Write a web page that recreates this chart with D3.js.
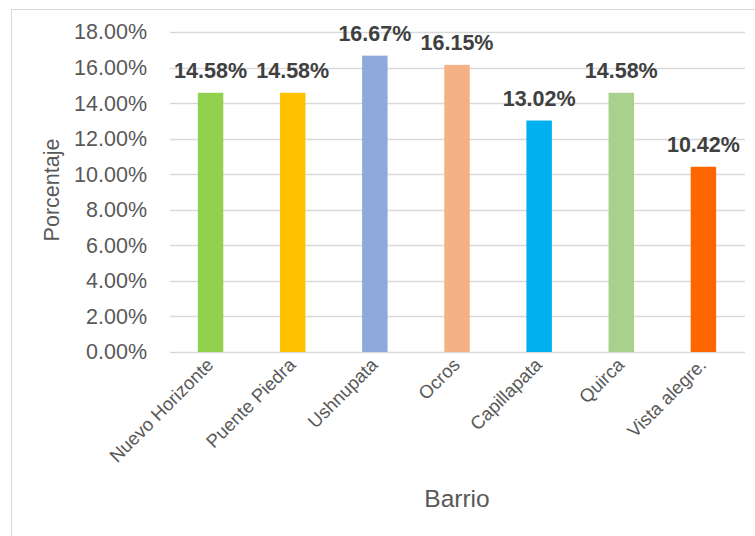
<!DOCTYPE html>
<html><head><meta charset="utf-8">
<script src="https://cdn.jsdelivr.net/npm/d3@7"></script>
<style>html,body{margin:0;padding:0;background:#fff;}svg{display:block;font-family:"Liberation Sans",Arial,sans-serif;}</style>
</head><body>
<svg id="chart" width="755" height="536"></svg>
<script>
const categories = ["Nuevo Horizonte","Puente Piedra","Ushnupata","Ocros","Capillapata","Quirca","Vista alegre."];
const values = [14.58,14.58,16.67,16.15,13.02,14.58,10.42];
const colors = ["#92D050","#FFC000","#8EA9DB","#F4B183","#00B0F0","#A9D18E","#FF6600"];
const yTicks = [0,2,4,6,8,10,12,14,16,18];
const yTitle = "Porcentaje";
const xTitle = "Barrio";

const svg = d3.select("#chart");
svg.append("rect").attr("x",11.5).attr("y",9.5).attr("width",800).attr("height",600)
  .attr("fill","#fff").attr("stroke","#D9D9D9").attr("stroke-width",1);

const x = d3.scaleBand().domain(categories).range([169.5,744.5]).paddingInner(0.69).paddingOuter(0.345);
const y = d3.scaleLinear().domain([0,18]).range([352,32]);

// gridlines
svg.append("g").selectAll("line").data(yTicks).join("line")
  .attr("x1",170).attr("x2",745)
  .attr("y1",d=>Math.round(y(d))+0.5).attr("y2",d=>Math.round(y(d))+0.5)
  .attr("stroke","#D9D9D9").attr("stroke-width",1.3);

// y axis labels
const yAxis = d3.axisLeft(y).tickValues(yTicks).tickSize(0).tickPadding(0)
  .tickFormat(d=>d.toFixed(2)+"%");
const gy = svg.append("g").attr("transform","translate(147,0)").call(yAxis);
gy.select(".domain").remove();
gy.selectAll("text").attr("font-size",21.5).attr("fill","#595959")
  .attr("font-family","'Liberation Sans',Arial,sans-serif");

// bars
svg.append("g").selectAll("rect").data(values).join("rect")
  .attr("x",(d,i)=>x(categories[i])).attr("width",x.bandwidth())
  .attr("y",d=>y(d)).attr("height",d=>y(0)-y(d))
  .attr("fill",(d,i)=>colors[i]);

// data labels
svg.append("g").selectAll("text").data(values).join("text")
  .attr("x",(d,i)=>x(categories[i])+x.bandwidth()/2)
  .attr("y",d=>y(d)-14.5)
  .attr("text-anchor","middle").attr("font-size",21.5).attr("font-weight","bold")
  .attr("fill","#404040").text(d=>d.toFixed(2)+"%");

// x labels
svg.append("g").selectAll("text").data(categories).join("text")
  .attr("transform",d=>`translate(${x(d)+x.bandwidth()/2+4},${y(0)+14}) rotate(-45)`)
  .attr("text-anchor","end").attr("font-size",18.5).attr("fill","#595959").text(d=>d);

// axis titles
svg.append("text").attr("transform","translate(59,190) rotate(-90)")
  .attr("text-anchor","middle").attr("font-size",21.5).attr("fill","#595959").text(yTitle);
svg.append("text").attr("x",457).attr("y",507).attr("text-anchor","middle")
  .attr("font-size",24.5).attr("fill","#595959").text(xTitle);
</script>
</body></html>
